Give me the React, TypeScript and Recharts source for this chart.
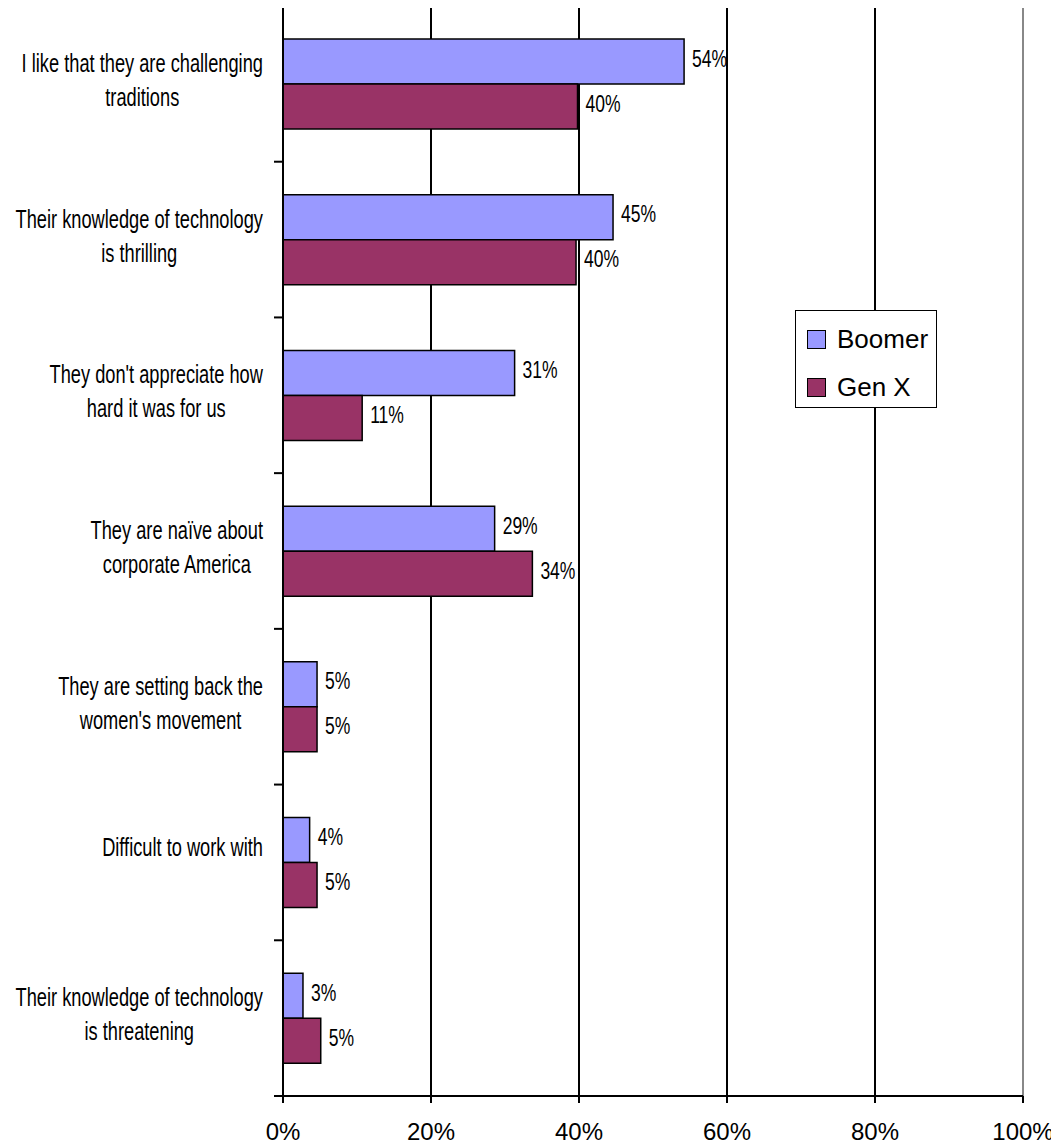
import {
  BarChart,
  Bar,
  XAxis,
  YAxis,
  CartesianGrid,
  ReferenceLine,
  Legend,
  LabelList,
} from "recharts";

// categories (line breaks as in the original labels)
const categories = [
  "I like that they are challenging\ntraditions",
  "Their knowledge of technology\nis thrilling",
  "They don't appreciate how\nhard it was for us",
  "They are naïve about\ncorporate America",
  "They are setting back the\nwomen's movement",
  "Difficult to work with",
  "Their knowledge of technology\nis threatening",
];
const boomer = [54.2, 44.6, 31.3, 28.6, 4.6, 3.6, 2.7];
const genX = [39.8, 39.6, 10.7, 33.7, 4.6, 4.6, 5.1];
const xTicks = [0, 20, 40, 60, 80, 100];
const seriesNames = ["Boomer", "Gen X"];
const seriesColors = ["#9999FF", "#993366"];

const data = categories.map((name, i) => ({ name, boomer: boomer[i], genx: genX[i] }));

const W = 1059;
const H = 1148;
const FONT = '"Liberation Sans", Arial, sans-serif';
const margin = { top: 6, right: 36, left: 0, bottom: 6 };
const Y_AXIS_W = 283;
const X_AXIS_H = 46;
const AXIS_X = margin.left + Y_AXIS_W;
const PLOT_H = H - margin.top - margin.bottom - X_AXIS_H;
const BAND = PLOT_H / categories.length;
const SX = 0.73; // narrow text like the original

let ctx: CanvasRenderingContext2D | null = null;
function textWidth(s: string, size: number) {
  if (!ctx) ctx = document.createElement("canvas").getContext("2d");
  if (!ctx) return s.length * size * 0.5;
  ctx.font = `${size}px ${FONT}`;
  return ctx.measureText(s).width;
}

function CategoryTick(props: any) {
  const { y, payload } = props;
  const idx = categories.indexOf(payload.value);
  const lines = String(payload.value).split("\n");
  const maxW = Math.max(...lines.map((l) => textWidth(l, 25))) * SX;
  const cx = AXIS_X - 20 - maxW / 2;
  const first = y - 6 - (lines.length - 1) * 6;
  return (
    <g>
      <line x1={AXIS_X - 9} x2={AXIS_X} y1={y - BAND / 2} y2={y - BAND / 2} stroke="#000" strokeWidth={2} />
      {idx === categories.length - 1 && (
        <line x1={AXIS_X - 9} x2={AXIS_X} y1={y + BAND / 2} y2={y + BAND / 2} stroke="#000" strokeWidth={2} />
      )}
      {lines.map((l, i) => (
        <text
          key={i}
          transform={`translate(${cx},${first + i * 34}) scale(${SX},1)`}
          textAnchor="middle"
          fontSize={25}
          fontFamily={FONT}
          fill="#000"
        >
          {l}
        </text>
      ))}
    </g>
  );
}

function ValueLabel(props: any) {
  const { x, y, width, height, value } = props;
  return (
    <text
      transform={`translate(${x + width + 8},${y + height / 2 + 5}) scale(${SX},1)`}
      fontSize={24}
      fontFamily={FONT}
      fill="#000"
    >
      {Math.round(value)}%
    </text>
  );
}

function LegendBox() {
  return (
    <div
      style={{
        boxSizing: "border-box",
        width: 142,
        height: 98,
        border: "1.5px solid #000",
        background: "#fff",
        paddingTop: 4,
        fontFamily: FONT,
      }}
    >
      {seriesNames.map((n, i) => (
        <div key={n} style={{ display: "flex", alignItems: "center", height: 48, paddingLeft: 11 }}>
          <span
            style={{
              boxSizing: "border-box",
              width: 19,
              height: 19,
              background: seriesColors[i],
              border: "1.5px solid #000",
              marginRight: 11,
            }}
          />
          <span style={{ fontSize: 26, color: "#000", lineHeight: "48px" }}>{n}</span>
        </div>
      ))}
    </div>
  );
}

export default function App() {
  return (
    <div style={{ margin: "-8px 0 0 -8px", width: W, height: H, background: "#fff" }}>
      <BarChart width={W} height={H} data={data} layout="vertical" margin={margin} barSize={45} barGap={0}>
        <CartesianGrid horizontal={false} stroke="#000" strokeWidth={2} />
        <ReferenceLine x={100} stroke="#888" strokeWidth={2} />
        <XAxis
          type="number"
          domain={[0, 100]}
          ticks={xTicks}
          tickFormatter={(v) => `${v}%`}
          height={X_AXIS_H}
          axisLine={{ stroke: "#000", strokeWidth: 2 }}
          tickLine={{ stroke: "#000", strokeWidth: 2 }}
          tickSize={7}
          tickMargin={20}
          tick={{ fill: "#000", fontSize: 24, fontFamily: FONT }}
        />
        {/* plot area top border */}
        <XAxis
          xAxisId="top"
          orientation="top"
          type="number"
          domain={[0, 100]}
          height={0}
          tick={false}
          tickLine={false}
          axisLine={{ stroke: "#999", strokeWidth: 1.5 }}
        />
        <YAxis
          type="category"
          dataKey="name"
          width={Y_AXIS_W}
          axisLine={{ stroke: "#000", strokeWidth: 2 }}
          tickLine={false}
          tick={<CategoryTick />}
          interval={0}
        />
        <Legend
          layout="vertical"
          align="center"
          verticalAlign="middle"
          content={<LegendBox />}
          wrapperStyle={{ left: 795, top: 310, width: 142, height: 98 }}
        />
        <Bar dataKey="boomer" name={seriesNames[0]} fill={seriesColors[0]} stroke="#000" strokeWidth={1.5} isAnimationActive={false}>
          <LabelList dataKey="boomer" content={<ValueLabel />} />
        </Bar>
        <Bar dataKey="genx" name={seriesNames[1]} fill={seriesColors[1]} stroke="#000" strokeWidth={1.5} isAnimationActive={false}>
          <LabelList dataKey="genx" content={<ValueLabel />} />
        </Bar>
      </BarChart>
    </div>
  );
}
